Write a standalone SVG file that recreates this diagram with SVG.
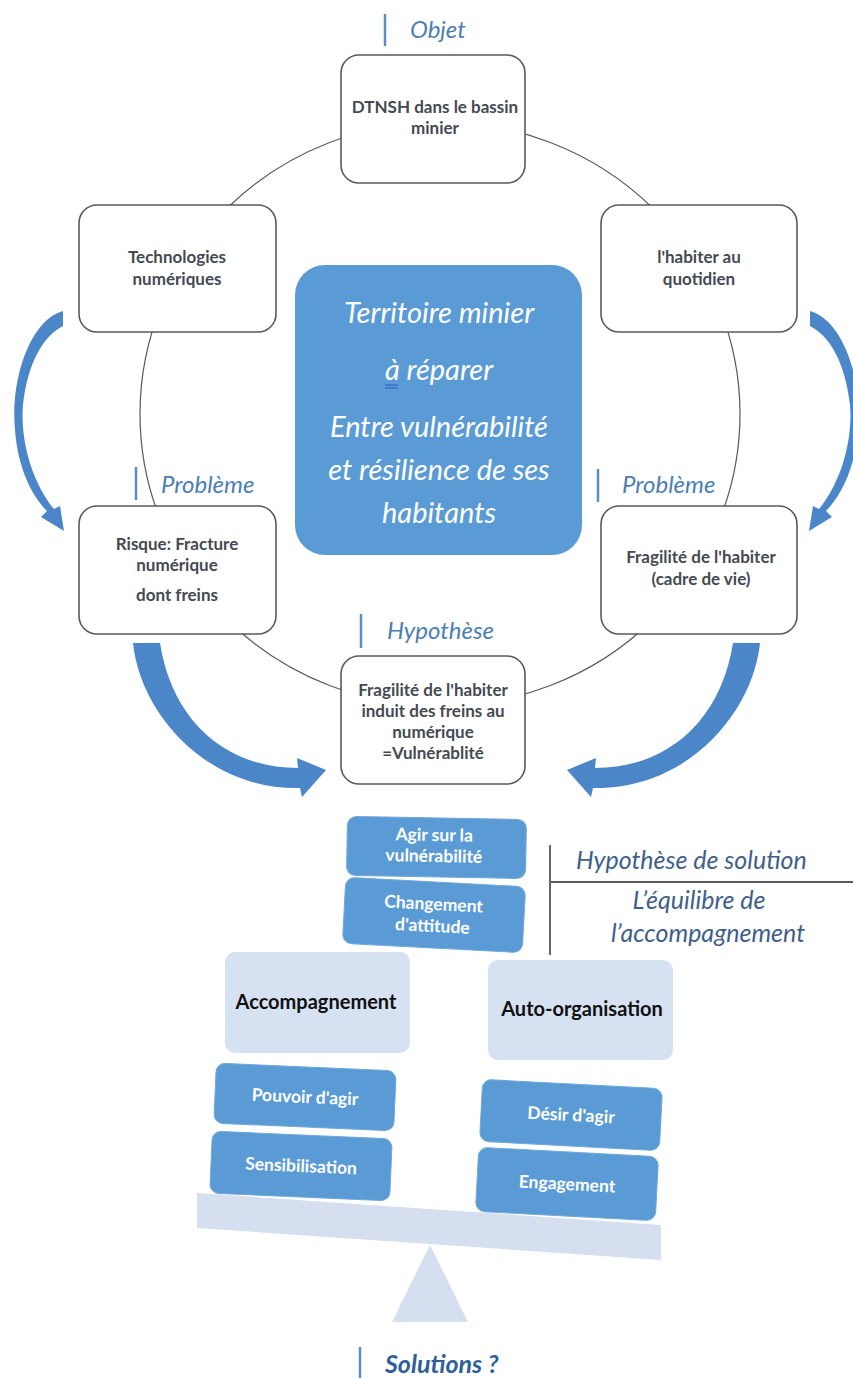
<svg xmlns="http://www.w3.org/2000/svg" width="853" height="1378" viewBox="0 0 853 1378">
<defs>
<style>
.node{fill:#fff;stroke:#595959;stroke-width:1.6}
.nt{font-family:Lato,"Liberation Sans",sans-serif;font-weight:bold;font-size:17px;fill:#444a52;text-anchor:middle}
.lbl{font-family:Lato,"Liberation Sans",sans-serif;font-style:italic;font-size:24px;fill:#4d7fb3}
.bar{stroke:#5b8fc4;stroke-width:2.5}
.ct{font-family:Lato,"Liberation Sans",sans-serif;font-style:italic;font-size:29px;fill:#fff;text-anchor:middle}
.bb{fill:#5b9bd5;stroke:#6fa8dc;stroke-width:1}
.bt{font-family:Lato,"Liberation Sans",sans-serif;font-weight:bold;font-size:17.5px;fill:#fff;text-anchor:middle}
.lb{fill:#d6e1f1}
.lt{font-family:Lato,"Liberation Sans",sans-serif;font-weight:bold;font-size:20px;fill:#111;text-anchor:middle}
.arr{fill:#4a86c8}
.ht{font-family:Lato,"Liberation Sans",sans-serif;font-style:italic;font-size:25px;fill:#3f5f8a}
</style>
</defs>
<rect width="853" height="1378" fill="#fff"/>
<g id="connectors">
<ellipse cx="440" cy="414" rx="300" ry="292" fill="none" stroke="#595959" stroke-width="1.2"/>
<path class="arr" d="M63 311 C30 320 10 380 15 430 C18 470 33 497 47 511 L41 517 L64 531 L60 506 L54 509 C32 482 20 440 23 405 C28 360 45 335 63 326 Z"/>
<path class="arr" transform="translate(873 0) scale(-1 1)" d="M63 311 C30 320 10 380 15 430 C18 470 33 497 47 511 L41 517 L64 531 L60 506 L54 509 C32 482 20 440 23 405 C28 360 45 335 63 326 Z"/>
<path class="arr" d="M133 643 C140 712 205 790 300 788 L302 797 L326 770 L297 758 L298 768 C225 768 172 720 160 643 Z"/>
<path class="arr" transform="translate(893 0) scale(-1 1)" d="M133 643 C140 712 205 790 300 788 L302 797 L326 770 L297 758 L298 768 C225 768 172 720 160 643 Z"/>
</g>
<g id="label-objet">
<line class="bar" x1="385" y1="14" x2="385" y2="46"/>
<text class="lbl" x="410" y="38">Objet</text>
</g>
<g id="node-dtnsh">
<rect class="node" x="341" y="55" width="184" height="128" rx="18"/>
<text class="nt" x="435" y="113">DTNSH dans le bassin</text>
<text class="nt" x="435" y="134">minier</text>
</g>
<g id="node-technologies">
<rect class="node" x="79" y="205" width="197" height="127" rx="18"/>
<text class="nt" x="177" y="263">Technologies</text>
<text class="nt" x="177" y="285">numériques</text>
</g>
<g id="node-habiter">
<rect class="node" x="601" y="205" width="196" height="127" rx="18"/>
<text class="nt" x="699" y="263">l'habiter au</text>
<text class="nt" x="699" y="285">quotidien</text>
</g>
<g id="node-center">
<rect x="295" y="265" width="287" height="290" rx="30" fill="#5b9bd5"/>
<text class="ct" x="439" y="323">Territoire minier</text>
<text class="ct" x="439" y="380">à réparer</text>
<line x1="385" y1="385" x2="398" y2="385" stroke="#2f55c8" stroke-width="1"/>
<line x1="385" y1="388" x2="398" y2="388" stroke="#2f55c8" stroke-width="1"/>
<text class="ct" x="439" y="437">Entre vulnérabilité</text>
<text class="ct" x="439" y="480">et résilience de ses</text>
<text class="ct" x="439" y="523">habitants</text>
</g>
<g id="label-probleme-left">
<line class="bar" x1="136" y1="467" x2="136" y2="500"/>
<text class="lbl" x="161" y="493">Problème</text>
</g>
<g id="label-probleme-right">
<line class="bar" x1="598" y1="469" x2="598" y2="502"/>
<text class="lbl" x="622" y="493">Problème</text>
</g>
<g id="node-risque">
<rect class="node" x="79" y="506" width="197" height="128" rx="18"/>
<text class="nt" x="177" y="550">Risque: Fracture</text>
<text class="nt" x="177" y="571">numérique</text>
<text class="nt" x="177" y="601">dont freins</text>
</g>
<g id="node-fragilite">
<rect class="node" x="601" y="506" width="196" height="128" rx="18"/>
<text class="nt" x="701" y="563">Fragilité de l'habiter</text>
<text class="nt" x="701" y="585">(cadre de vie)</text>
</g>
<g id="label-hypothese">
<line class="bar" x1="361" y1="614" x2="361" y2="648"/>
<text class="lbl" x="387" y="639">Hypothèse</text>
</g>
<g id="node-hypothese">
<rect class="node" x="341" y="656" width="184" height="128" rx="18"/>
<text class="nt" x="433" y="696">Fragilité de l'habiter</text>
<text class="nt" x="433" y="717">induit des freins au</text>
<text class="nt" x="433" y="738">numérique</text>
<text class="nt" x="433" y="759">=Vulnérablité</text>
</g>
<g id="node-agir">
<g transform="rotate(1 436 847)">
<rect class="bb" x="347" y="818" width="179" height="59" rx="9"/>
<text class="bt" x="434" y="841" font-size="16">Agir sur la</text>
<text class="bt" x="434" y="862" font-size="16">vulnérabilité</text>
</g>
</g>
<g id="node-changement">
<g transform="rotate(3 434 915)">
<rect class="bb" x="344" y="882" width="180" height="66" rx="9"/>
<text class="bt" x="433" y="910">Changement</text>
<text class="bt" x="433" y="932">d'attitude</text>
</g>
</g>
<g id="label-solution">
<line x1="550" y1="845" x2="550" y2="955" stroke="#666" stroke-width="2"/>
<line x1="551" y1="882" x2="853" y2="882" stroke="#222" stroke-width="1.5"/>
<text class="ht" x="576" y="869">Hypothèse de solution</text>
<text class="ht" x="699" y="909" text-anchor="middle" font-size="26">L’équilibre de</text>
<text class="ht" x="708" y="942" text-anchor="middle" font-size="26">l’accompagnement</text>
</g>
<g id="node-accompagnement">
<rect class="lb" x="225" y="952" width="185" height="101" rx="10"/>
<text class="lt" x="316" y="1009">Accompagnement</text>
</g>
<g id="node-auto">
<rect class="lb" x="488" y="960" width="185" height="100" rx="10"/>
<text class="lt" x="582" y="1016">Auto-organisation</text>
</g>
<g id="node-pouvoir">
<g transform="rotate(2.5 305 1097)">
<rect class="bb" x="215" y="1067" width="180" height="60" rx="9"/>
<text class="bt" x="305" y="1103">Pouvoir d'agir</text>
</g>
</g>
<g id="node-sensibilisation">
<g transform="rotate(2.5 301 1166)">
<rect class="bb" x="211" y="1135" width="180" height="62" rx="9"/>
<text class="bt" x="301" y="1172">Sensibilisation</text>
</g>
</g>
<g id="node-desir">
<g transform="rotate(3 571 1115)">
<rect class="bb" x="481" y="1084" width="180" height="62" rx="9"/>
<text class="bt" x="571" y="1121">Désir d'agir</text>
</g>
</g>
<g id="node-engagement">
<g transform="rotate(3 567 1184)">
<rect class="bb" x="477" y="1152" width="180" height="64" rx="9"/>
<text class="bt" x="567" y="1190">Engagement</text>
</g>
</g>
<g id="balance">
<polygon points="197,1193 661,1225 661,1260 197,1228" fill="#d5dff0"/>
<polygon points="430,1245 468,1322 392,1322" fill="#d5dff0"/>
</g>
<g id="label-solutions">
<line class="bar" x1="360" y1="1347" x2="360" y2="1378"/>
<text x="385" y="1373" font-family="Lato,'Liberation Sans',sans-serif" font-style="italic" font-weight="bold" font-size="25" fill="#2f5f9a">Solutions ?</text>
</g>
</svg>
